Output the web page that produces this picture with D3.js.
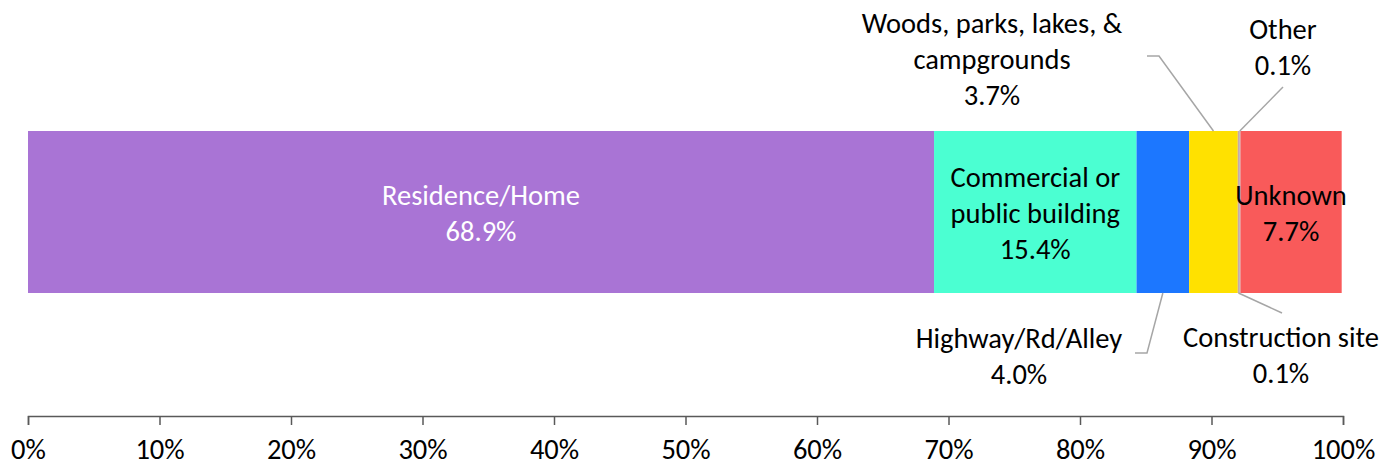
<!DOCTYPE html>
<html>
<head>
<meta charset="utf-8">
<script src="https://cdn.jsdelivr.net/npm/d3@7"></script>
<style>
  body { margin: 0; background: #fff; }
  text { font-family: Calibri, Carlito, Lato, sans-serif; }
</style>
</head>
<body>
<div id="canvas"></div>
<script>
"use strict"
let svgWidth = 1386;
let svgHeight = 467;

// chart data
let categories = ["Residence/Home", "Commercial or public building", "Highway/Rd/Alley",
    "Woods, parks, lakes, & campgrounds", "Construction site", "Other", "Unknown"];
let values = [68.9, 15.4, 4.0, 3.7, 0.1, 0.1, 7.7];
let labelLines = [
    ["Residence/Home"],
    ["Commercial or", "public building"],
    ["Highway/Rd/Alley"],
    ["Woods, parks, lakes, &", "campgrounds"],
    ["Construction site"],
    ["Other"],
    ["Unknown"]
];
let colors = ["#A974D5", "#4BFFD2", "#1C77FF", "#FFE100", "#C9A9A9", "#B8B8B8", "#F95A5A"];
let tickValues = [0, 10, 20, 30, 40, 50, 60, 70, 80, 90, 100];

let marginLeft = 28;
let marginRight = 43;
let barTop = 131;
let barHeight = 162;
let axisY = 416;
let fontSize = 28.5;
let lineGap = 36;

let svg = d3.select("#canvas")
    .append("svg")
    .attr("width", svgWidth)
    .attr("height", svgHeight);

let xScale = d3.scaleLinear()
    .domain([0, 100])
    .range([marginLeft, svgWidth - marginRight]);

// cumulative start of each segment
let segments = [];
let running = 0;
for (let i = 0; i < values.length; i++) {
    segments.push({
        name: categories[i],
        value: values[i],
        start: running,
        end: running + values[i],
        color: colors[i],
        lines: labelLines[i].concat([values[i].toFixed(1) + "%"])
    });
    running += values[i];
}

svg.selectAll("rect.seg")
    .data(segments)
    .join("rect")
    .attr("class", "seg")
    .attr("x", d => xScale(d.start))
    .attr("y", barTop)
    .attr("width", d => xScale(d.end) - xScale(d.start))
    .attr("height", barHeight)
    .attr("fill", d => d.color);

// axis
let axis = d3.axisBottom(xScale)
    .tickValues(tickValues)
    .tickSize(9)
    .tickPadding(14)
    .tickFormat(d => d + "%");

let axisG = svg.append("g")
    .attr("transform", "translate(0," + axisY + ")")
    .call(axis);
axisG.select(".domain").attr("stroke", "#595959").attr("stroke-width", 1.5);
axisG.selectAll(".tick line").attr("stroke", "#595959").attr("stroke-width", 1.5);
axisG.selectAll(".tick text")
    .attr("font-size", fontSize)
    .attr("fill", "#000")
    .style("font-family", "Calibri, Carlito, Lato, sans-serif");

// draws a multi-line label, y = baseline of first line
function drawLabel(lines, cx, y, color) {
    let t = svg.append("text")
        .attr("text-anchor", "middle")
        .attr("font-size", fontSize)
        .attr("fill", color);
    lines.forEach(function (line, i) {
        t.append("tspan")
            .attr("x", cx)
            .attr("y", y + i * lineGap)
            .text(line);
    });
}

let barMid = barTop + barHeight / 2;
function segMid(d) { return (xScale(d.start) + xScale(d.end)) / 2; }

// inside labels
[0, 1, 6].forEach(function (i) {
    let d = segments[i];
    let n = d.lines.length;
    let firstBase = barMid + 11 - (n - 1) / 2 * lineGap;
    drawLabel(d.lines, segMid(d), firstBase, i == 0 ? "#fff" : "#000");
});

// outside labels with leader lines
let leaderColor = "#A6A6A6";
function leader(points) {
    svg.append("polyline")
        .attr("points", points.map(p => p.join(",")).join(" "))
        .attr("fill", "none")
        .attr("stroke", leaderColor)
        .attr("stroke-width", 1.5);
}

// Woods (above)
let woods = segments[3];
drawLabel(woods.lines, 992, 33, "#000");
leader([[1147, 56], [1159, 56], [segMid(woods), barTop]]);

// Other (above)
let other = segments[5];
drawLabel(other.lines, 1283, 39, "#000");
leader([[1283, 87], [segMid(other), barTop]]);

// Highway (below)
let hwy = segments[2];
drawLabel(hwy.lines, 1019, 348, "#000");
leader([[segMid(hwy), barTop + barHeight], [1147, 353], [1135, 353]]);

// Construction (below)
let cons = segments[4];
drawLabel(cons.lines, 1281, 347, "#000");
leader([[segMid(cons), barTop + barHeight], [1282, 313]]);
</script>
</body>
</html>
